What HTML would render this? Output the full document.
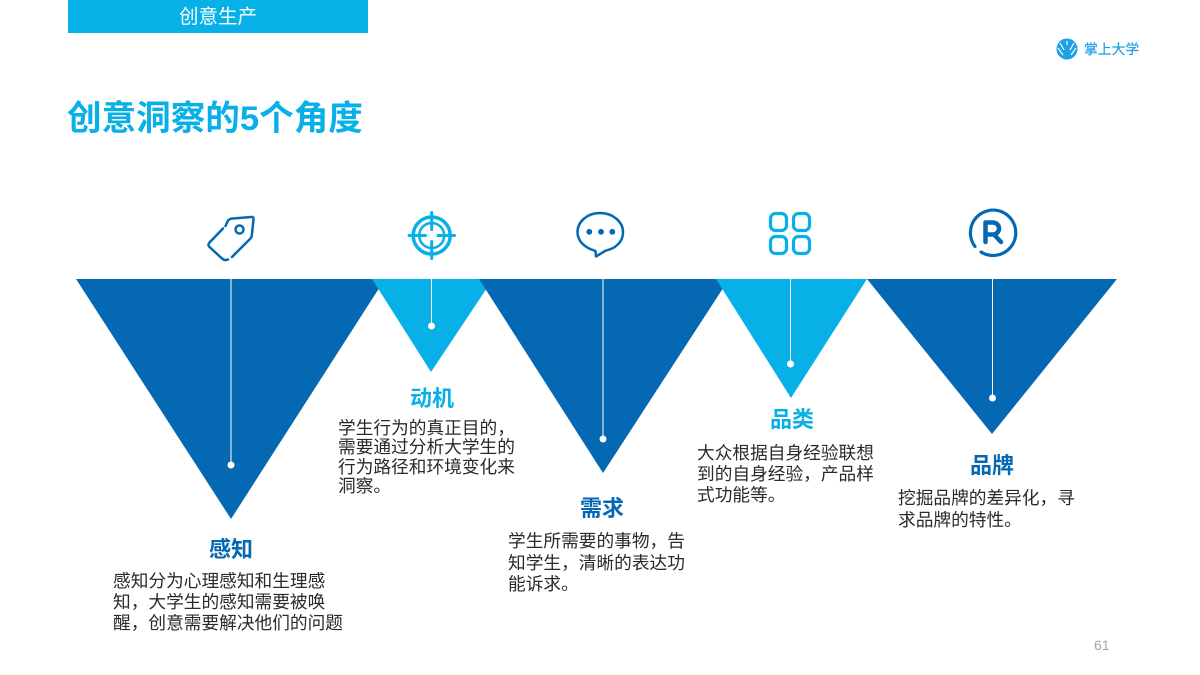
<!DOCTYPE html>
<html lang="zh-CN">
<head>
<meta charset="utf-8">
<style>
html,body{margin:0;padding:0;background:#fff}
#p{position:relative;width:1200px;height:675px;overflow:hidden;background:#fff;font-family:"Liberation Sans","Noto Sans CJK SC",sans-serif}
.t{position:absolute;white-space:nowrap;line-height:1}
.b{font-size:17.7px;color:#2a2a2a;height:18px}
.h{font-size:22px;font-weight:700;transform:translateX(-50%)}
.d{color:#0568b3}.c{color:#08b0e8}
svg{position:absolute;left:0;top:0}
</style>
</head>
<body>
<div id="p">
<svg width="1200" height="675" viewBox="0 0 1200 675">
  <rect x="68" y="0" width="300" height="33" fill="#08b0e8"/>
  <polygon points="76,279 385,279 231,519" fill="#0568b3"/>
  <polygon points="372,279 493,279 431,372" fill="#08b0e8"/>
  <polygon points="479,279 729,279 603,473" fill="#0568b3"/>
  <polygon points="716,279 867,279 791,398" fill="#08b0e8"/>
  <polygon points="867,279 1117,279 992,434" fill="#0568b3"/>
  <g stroke="#fff" stroke-width="1">
    <line x1="231" y1="279" x2="231" y2="465"/>
    <line x1="431.500" y1="279" x2="431.500" y2="326"/>
    <line x1="603" y1="279" x2="603" y2="439"/>
    <line x1="790.500" y1="279" x2="790.500" y2="364"/>
    <line x1="992.500" y1="279" x2="992.500" y2="398"/>
  </g>
  <g fill="#fff">
    <circle cx="231" cy="465" r="3.500"/>
    <circle cx="431.500" cy="326" r="3.500"/>
    <circle cx="603" cy="439" r="3.500"/>
    <circle cx="790.500" cy="364" r="3.500"/>
    <circle cx="992.500" cy="398" r="3.500"/>
  </g>
  <g fill="none" stroke="#0568b3" stroke-width="2.500" stroke-linecap="round" stroke-linejoin="round">
    <path d="M223 228.500 L209.500 242.500 Q207.500 245 209.500 247 L222 258.500 Q225 261 228 259.500"/>
    <path d="M232 257 L250 239 Q252 237 252 234 L253.500 219.500 Q254 216.500 251 217 L233 218.500 Q230 218.500 228 220.500 L225.500 226"/>
    <circle cx="239.500" cy="229.500" r="4"/>
  </g>
  <g fill="none" stroke="#08b0e8" stroke-linecap="round">
    <circle cx="431.700" cy="235.500" r="18.500" stroke-width="3.500"/>
    <circle cx="431.700" cy="235.500" r="12.500" stroke-width="2.500"/>
    <path d="M431.700 212.500 V229.500 M431.700 241.500 V258.500 M409 235.500 H425.500 M438 235.500 H454.500" stroke-width="3"/>
  </g>
  <g fill="none" stroke="#0568b3" stroke-width="2.500" stroke-linecap="round" stroke-linejoin="round">
    <path d="M600 213 C587 213 577.500 222 577.500 232 C577.500 241 584 246 590 249 L595.500 251 L596 256.500 L605 251 C607 250 613 249 616 246 C620 243 623 238 623 232 C623 222 613 213 600 213 Z"/>
  </g>
  <g fill="#0568b3"><circle cx="589.300" cy="231.800" r="2.900"/><circle cx="601" cy="231.800" r="2.900"/><circle cx="612.300" cy="231.800" r="2.900"/></g>
  <g fill="none" stroke="#08b0e8" stroke-width="3.200">
    <rect x="770.500" y="213.500" width="16" height="17" rx="5"/>
    <rect x="793.500" y="213.500" width="16" height="17" rx="5"/>
    <rect x="770.500" y="236.500" width="16" height="17" rx="5"/>
    <rect x="793.500" y="236.500" width="16" height="17" rx="5"/>
  </g>
  <path d="M975 246.500 A22.700 22.700 0 1 1 981 252" fill="none" stroke="#0568b3" stroke-width="3.200" stroke-linecap="round"/>
  <path d="M985.500 242 V222.500 H993 A6 6 0 0 1 993 234.500 H985.500 M994 234.500 L1001 242" fill="none" stroke="#0568b3" stroke-width="4.500" stroke-linecap="round" stroke-linejoin="round"/>
  <circle cx="1067" cy="49" r="10.500" fill="#1f9fe6"/>
  <g stroke="#fff" stroke-width="1.200" fill="none">
    <path d="M1060 43 L1064 50 M1074 43 L1070 50 M1058 48 L1063 55 M1076 48 L1071 55 M1067 41 V45"/>
  </g>
</svg>

<div class="t" style="left:68px;top:8px;width:300px;text-align:center;font-size:19.500px;color:#fff">创意生产</div>
<div class="t" style="left:1084px;top:43px;font-size:13.800px;color:#1f9fe6;-webkit-text-stroke:.2px #1f9fe6">掌上大学</div>
<div class="t c" style="left:67px;top:102px;font-size:34.600px;font-weight:700">创意洞察的5个角度</div>

<div class="t h d" style="left:231px;top:539px">感知</div>
<div class="t h c" style="left:432px;top:388px">动机</div>
<div class="t h d" style="left:602px;top:498px">需求</div>
<div class="t h c" style="left:792px;top:409px">品类</div>
<div class="t h d" style="left:992px;top:455px">品牌</div>

<div class="t b" style="left:113px;top:573px">感知分为心理感知和生理感</div>
<div class="t b" style="left:113px;top:594px">知，大学生的感知需要被唤</div>
<div class="t b" style="left:113px;top:615px">醒，创意需要解决他们的问题</div>

<div class="t b" style="left:338px;top:420px">学生行为的真正目的，</div>
<div class="t b" style="left:338px;top:439px">需要通过分析大学生的</div>
<div class="t b" style="left:338px;top:459px">行为路径和环境变化来</div>
<div class="t b" style="left:338px;top:478px">洞察。</div>

<div class="t b" style="left:508px;top:533px">学生所需要的事物，告</div>
<div class="t b" style="left:508px;top:555px">知学生，清晰的表达功</div>
<div class="t b" style="left:508px;top:576px">能诉求。</div>

<div class="t b" style="left:697px;top:445px">大众根据自身经验联想</div>
<div class="t b" style="left:697px;top:466px">到的自身经验，产品样</div>
<div class="t b" style="left:697px;top:487px">式功能等。</div>

<div class="t b" style="left:898px;top:490px">挖掘品牌的差异化，寻</div>
<div class="t b" style="left:898px;top:512px">求品牌的特性。</div>

<div class="t" style="left:1094px;top:638px;font-size:14px;color:#a6a6a6">61</div>
</div>
</body>
</html>
